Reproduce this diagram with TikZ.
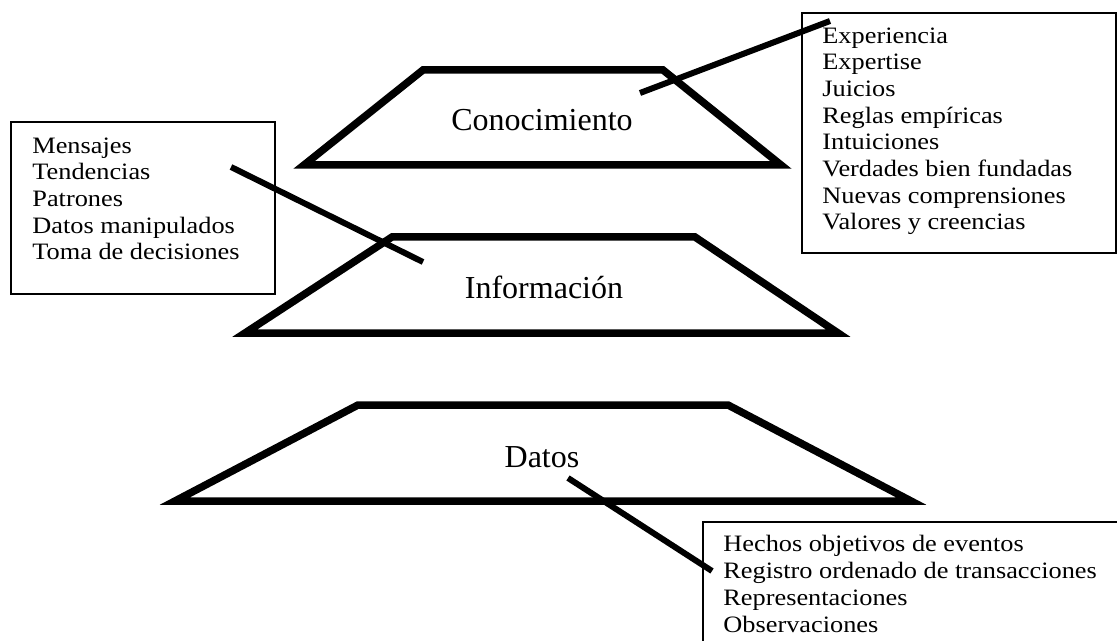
\documentclass[tikz,border=0pt]{standalone}
\usepackage{fontspec}
\setmainfont{Liberation Serif}
\newfontfamily\listfont{Liberation Serif}[FakeStretch=1.12]

\begin{document}
\begin{tikzpicture}[x=0.5pt, y=-0.5pt,
    level/.style = {line width=3.75pt, line join=miter},
    link/.style = {line width=3pt},
    box/.style = {draw, line width=0.7pt},
    items/.style = {align=left, anchor=base west, inner sep=0pt, font=\listfont\fontsize{11.75}{13.35}\selectfont},
    title/.style = {anchor=base, inner sep=0pt, font=\fontsize{16}{19}\selectfont}]
        \clip (0,0) rectangle (1117,641);

        \draw[level] (423,70) -- (663,70) -- (781,165) -- (304,165) -- cycle;
        \draw[level] (392,237) -- (695,237) -- (838,333) -- (245,333) -- cycle;
        \draw[level] (358,405) -- (728,405) -- (911,501) -- (175,501) -- cycle;

        \node[title] (con) at (542,131) {Conocimiento};
        \node[title] (inf) at (544,299) {Información};
        \node[title] (dat) at (542,467) {Datos};

        \draw[box] (802,13) rectangle (1116,253);
        \draw[box] (11,122) rectangle (275,294);
        \draw[box] (703,522) rectangle (1130,660);

        % base of a multi-line node sits on its last line
        \node[items] (conitems) at (822,230) {Experiencia\\Expertise\\Juicios\\Reglas empíricas\\Intuiciones\\Verdades bien fundadas\\Nuevas comprensiones\\Valores y creencias};
        \node[items] (infitems) at (32,260) {Mensajes\\Tendencias\\Patrones\\Datos manipulados\\Toma de decisiones};
        \node[items] (datitems) at (723,632) {Hechos objetivos de eventos\\Registro ordenado de transacciones\\Representaciones\\Observaciones};

        \coordinate (conin) at (640,93);
        \coordinate (conout) at (830,21);
        \coordinate (infout) at (231,167);
        \coordinate (infin) at (423,262);
        \coordinate (datin) at (568,478);
        \coordinate (datout) at (712,571);

        \draw[link] (conin) -- (conout);
        \draw[link] (infout) -- (infin);
        \draw[link] (datin) -- (datout);

    \end{tikzpicture}
\end{document}
